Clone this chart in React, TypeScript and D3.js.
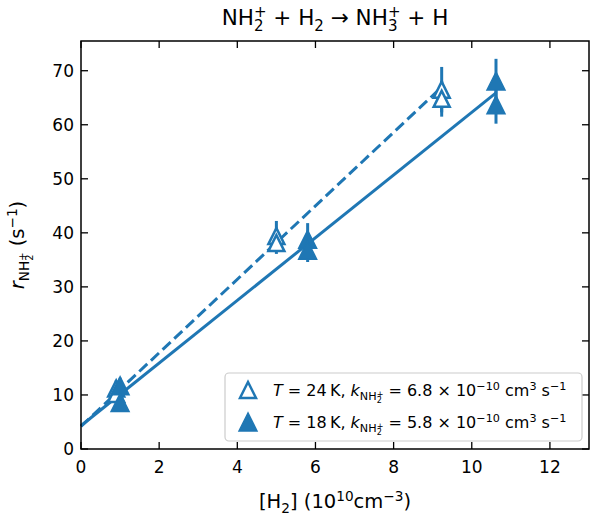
import React from "react";
import * as d3 from "d3";

const COLOR = "#1f77b4";
const FONT = "DejaVu Sans";

const xTicks = [0, 2, 4, 6, 8, 10, 12];
const yTicks = [0, 10, 20, 30, 40, 50, 60, 70];

// T = 24 K, open triangles
const warmX = [0.9, 0.9, 5.0, 5.0, 9.23, 9.23];
const warmY = [11.2, 10.2, 39.4, 38.1, 66.5, 64.8];
const warmErr = [1.5, 1.2, 2.8, 2.0, 4.2, 3.3];

// T = 18 K, filled triangles
const coldX = [1.0, 1.0, 5.8, 5.8, 10.62, 10.62];
const coldY = [11.7, 8.6, 38.8, 36.8, 68.1, 63.7];
const coldErr = [1.5, 1.0, 3.0, 2.2, 4.1, 3.5];

// linear fits r = k[H2] + b
const warmFit = { slope: 6.8, intercept: 4.2 };
const coldFit = { slope: 5.8, intercept: 4.3 };

const W = 590;
const H = 515;
const plot = { left: 81, right: 589, top: 41, bottom: 449 };

type Seg = { t: string; lvl?: number; it?: boolean; stack?: boolean };

// text with sub/superscripts via tspans; lvl: 0 normal, -1 sub, 1 sup, -2/-3 sub-of-sub
const Rich = ({ segs, size, ...rest }: { segs: Seg[]; size: number; [k: string]: any }) => {
  let cur = 0;
  let prevW = 0;
  return (
    <text fontFamily={FONT} fontSize={size} {...rest}>
      {segs.map((s, i) => {
        const lvl = s.lvl ?? 0;
        let off = 0;
        let fs = size;
        if (lvl === -1) { off = size * 0.28; fs = size * 0.7; }
        if (lvl === 1) { off = -size * 0.38; fs = size * 0.7; }
        if (lvl === -2) { off = size * 0.45; fs = size * 0.5; }
        if (lvl === -3) { off = size * 0.08; fs = size * 0.5; }
        const dy = off - cur;
        cur = off;
        const dx = s.stack ? -prevW : undefined;
        prevW = fs * 0.636 * s.t.length;
        return (
          <tspan key={i} dy={dy} dx={dx} fontSize={fs}
            fontStyle={s.it ? "italic" : "normal"}>{s.t}</tspan>
        );
      })}
    </text>
  );
};

const tri = (cx: number, cy: number, r: number) =>
  `M${cx},${cy - r}L${cx - r},${cy + r}L${cx + r},${cy + r}Z`;

export default function App() {
  const x = d3.scaleLinear().domain([0, 13]).range([plot.left, plot.right]);
  const y = d3.scaleLinear().domain([0, 75.5]).range([plot.bottom, plot.top]);

  const fitLine = (fit: { slope: number; intercept: number }, xmax: number) =>
    d3.line<number>().x((d) => x(d)).y((d) => y(fit.slope * d + fit.intercept))([0, xmax]) as string;

  const warmMax = d3.max(warmX) as number;
  const coldMax = d3.max(coldX) as number;
  const mr = 9;
  const tickLen = 7;

  const legendSegs = (temp: string, k: string): Seg[] => [
    { t: "T", it: true },
    { t: ` = ${temp}\u2009K, ` },
    { t: "k", it: true },
    { t: "NH", lvl: -1 },
    { t: "2", lvl: -2 },
    { t: "+", lvl: -3, stack: true },
    { t: ` = ${k} × 10`, lvl: 0 },
    { t: "−10", lvl: 1 },
    { t: " cm", lvl: 0 },
    { t: "3", lvl: 1 },
    { t: " s", lvl: 0 },
    { t: "−1", lvl: 1 },
  ];

  return (
    <svg width={W} height={H} style={{ position: "absolute", left: 0, top: 0, background: "#fff" }}>
      {/* title */}
      <Rich size={21.5} x={(plot.left + plot.right) / 2} y={25} textAnchor="middle" segs={[
        { t: "NH" }, { t: "2", lvl: -1 }, { t: "+", lvl: 1, stack: true },
        { t: " + H", lvl: 0 }, { t: "2", lvl: -1 }, { t: " → NH", lvl: 0 },
        { t: "3", lvl: -1 }, { t: "+", lvl: 1, stack: true }, { t: " + H", lvl: 0 },
      ]} />

      {/* fit lines */}
      <path d={fitLine(warmFit, warmMax)} fill="none" stroke={COLOR} strokeWidth={3} strokeDasharray="11,5" />
      <path d={fitLine(coldFit, coldMax)} fill="none" stroke={COLOR} strokeWidth={3} />

      {/* error bars */}
      {warmX.map((d, i) => (
        <line key={"we" + i} x1={x(d)} x2={x(d)} y1={y(warmY[i] - warmErr[i])} y2={y(warmY[i] + warmErr[i])}
          stroke={COLOR} strokeWidth={3} />
      ))}
      {coldX.map((d, i) => (
        <line key={"ce" + i} x1={x(d)} x2={x(d)} y1={y(coldY[i] - coldErr[i])} y2={y(coldY[i] + coldErr[i])}
          stroke={COLOR} strokeWidth={3} />
      ))}

      {/* markers */}
      {warmX.map((d, i) => (
        <path key={"wm" + i} d={tri(x(d), y(warmY[i]), mr - 1)} fill="#fff" stroke={COLOR} strokeWidth={2.5} />
      ))}
      {coldX.map((d, i) => (
        <path key={"cm" + i} d={tri(x(d), y(coldY[i]), mr)} fill={COLOR} stroke={COLOR} strokeWidth={1.5} />
      ))}

      {/* frame and ticks */}
      <rect x={plot.left} y={plot.top} width={plot.right - plot.left} height={plot.bottom - plot.top}
        fill="none" stroke="#000" strokeWidth={1.5} />
      {xTicks.map((t) => (
        <g key={"xt" + t}>
          <line x1={x(t)} x2={x(t)} y1={plot.bottom} y2={plot.bottom - tickLen} stroke="#000" strokeWidth={1.3} />
          <line x1={x(t)} x2={x(t)} y1={plot.top} y2={plot.top + tickLen} stroke="#000" strokeWidth={1.3} />
          <text x={x(t)} y={plot.bottom + 24} textAnchor="middle" fontFamily={FONT} fontSize={17}>{t}</text>
        </g>
      ))}
      {yTicks.map((t) => (
        <g key={"yt" + t}>
          <line x1={plot.left} x2={plot.left + tickLen} y1={y(t)} y2={y(t)} stroke="#000" strokeWidth={1.3} />
          <line x1={plot.right} x2={plot.right - tickLen} y1={y(t)} y2={y(t)} stroke="#000" strokeWidth={1.3} />
          <text x={plot.left - 7} y={y(t) + 6} textAnchor="end" fontFamily={FONT} fontSize={17}>{t}</text>
        </g>
      ))}

      {/* axis labels */}
      <Rich size={19.5} x={(plot.left + plot.right) / 2} y={508} textAnchor="middle" segs={[
        { t: "[H" }, { t: "2", lvl: -1 }, { t: "] (10", lvl: 0 }, { t: "10", lvl: 1 },
        { t: "cm", lvl: 0 }, { t: "−3", lvl: 1 }, { t: ")", lvl: 0 },
      ]} />
      <Rich size={19.5} transform={`translate(24,${(plot.top + plot.bottom) / 2}) rotate(-90)`} textAnchor="middle" segs={[
        { t: "r", it: true }, { t: "NH", lvl: -1 }, { t: "2", lvl: -2 },
        { t: "+", lvl: -3, stack: true }, { t: " (s", lvl: 0 }, { t: "−1", lvl: 1 }, { t: ")", lvl: 0 },
      ]} />

      {/* legend */}
      <rect x={225} y={373} width={357} height={68} rx={4} fill="#fff" fillOpacity={0.8} stroke="#ccc" strokeWidth={1.2} />
      <path d={tri(248, 390, mr - 1)} fill="#fff" stroke={COLOR} strokeWidth={2.5} />
      <path d={tri(248, 422, mr)} fill={COLOR} stroke={COLOR} strokeWidth={1.5} />
      <Rich size={16} x={273} y={396} segs={legendSegs("24", "6.8")} />
      <Rich size={16} x={273} y={428} segs={legendSegs("18", "5.8")} />
    </svg>
  );
}
